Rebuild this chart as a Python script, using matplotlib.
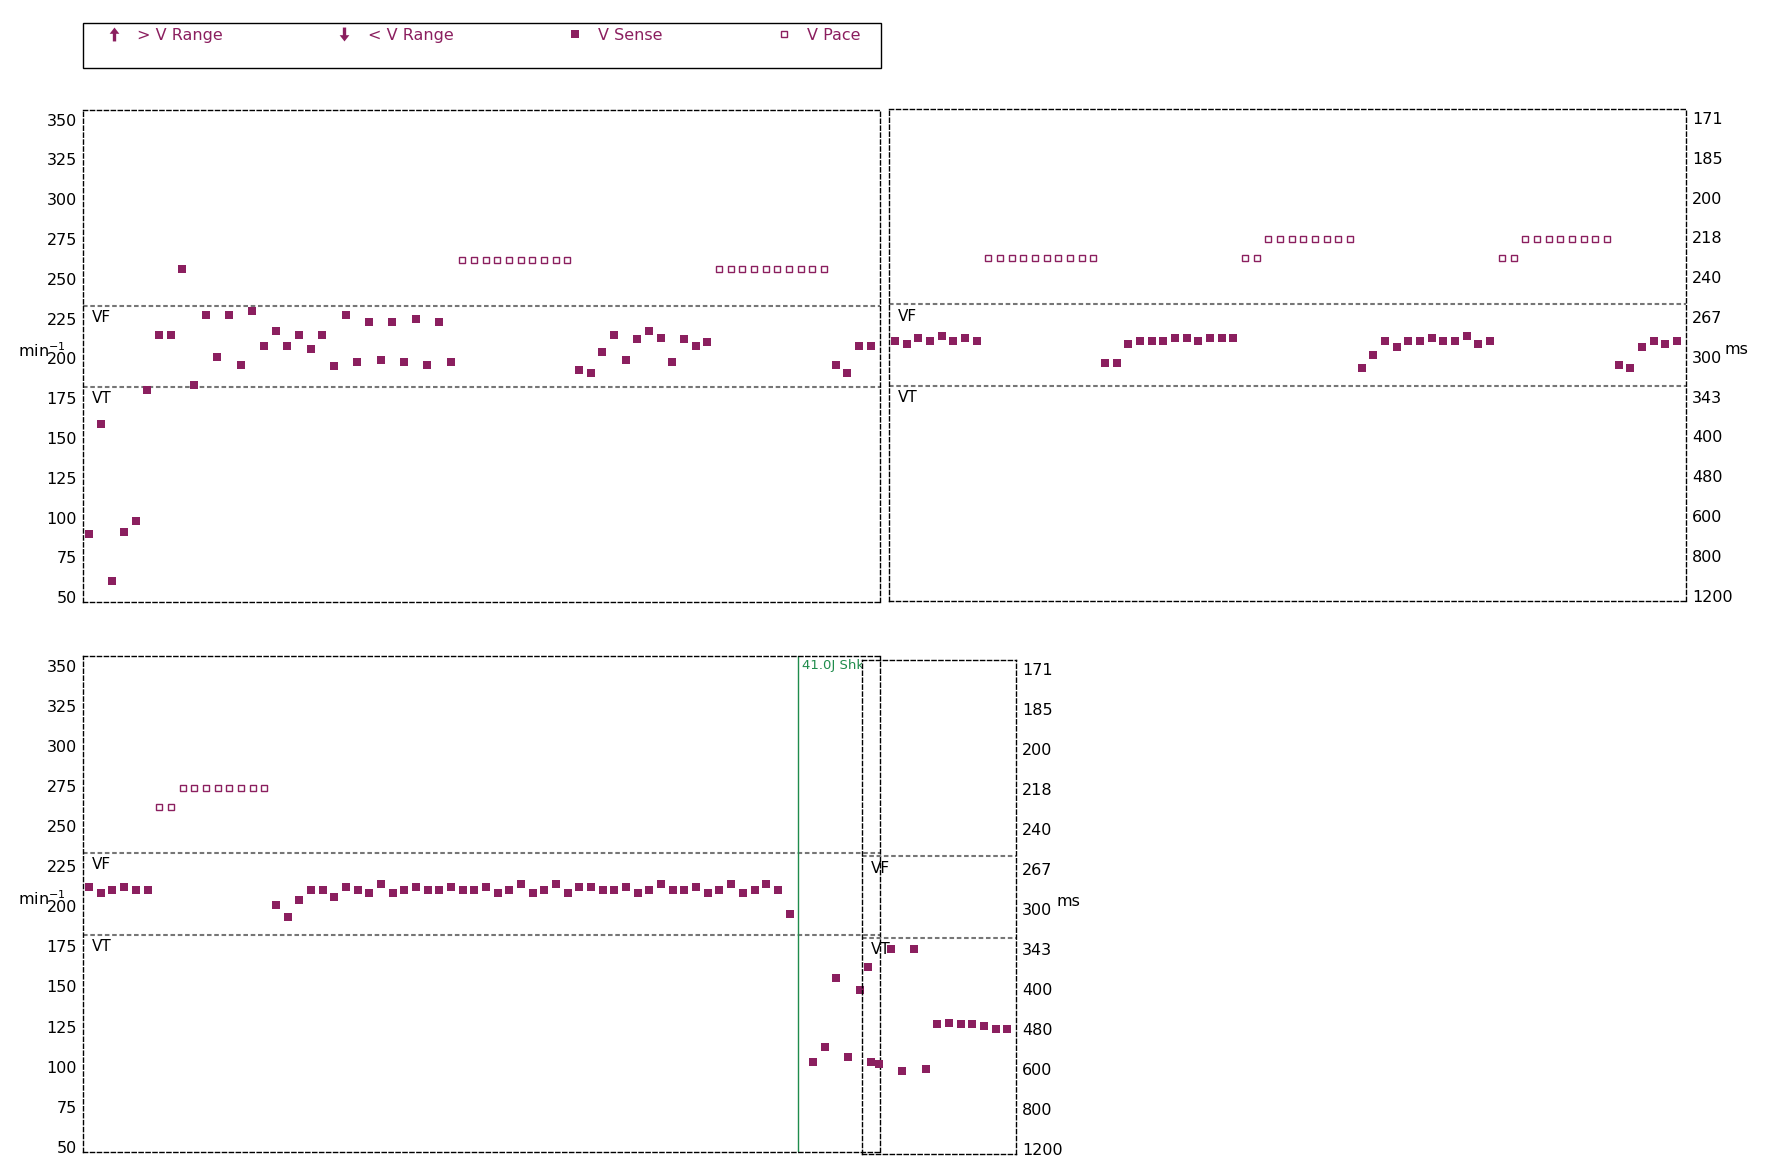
import matplotlib
matplotlib.use('Agg')
import matplotlib.pyplot as plt
from matplotlib.lines import Line2D
from matplotlib.path import Path
from matplotlib.transforms import Bbox, TransformedBbox
import numpy as np

PURPLE = '#8b1f5f'
GREEN = '#1f8c4c'
GREY = '#767676'

# beat-by-beat rate (bpm) of each strip, S = sensed beat, P = paced beat
strip1_bpm = [90, 159, 60, 91, 98, 180, 215, 215, 256, 183, 227, 201, 227, 196, 230, 208,
              217, 208, 215, 206, 215, 195, 227, 198, 223, 199, 223, 198, 225, 196, 223, 198,
              262, 262, 262, 262, 262, 262, 262, 262, 262, 262,
              193, 191, 204, 215, 199, 212, 217, 213, 198, 212, 208, 210,
              256, 256, 256, 256, 256, 256, 256, 256, 256, 256,
              196, 191, 208, 208]
strip1_kind = 'S' * 32 + 'P' * 10 + 'S' * 12 + 'P' * 10 + 'S' * 4

strip2_bpm = [210, 208, 212, 210, 213, 210, 212, 210,
              262, 262, 262, 262, 262, 262, 262, 262, 262, 262,
              196, 196, 208, 210, 210, 210, 212, 212, 210, 212, 212, 212,
              262, 262, 274, 274, 274, 274, 274, 274, 274, 274,
              193, 201, 210, 206, 210, 210, 212, 210, 210, 213, 208, 210,
              262, 262, 274, 274, 274, 274, 274, 274, 274, 274,
              195, 193, 206, 210, 208, 210]
strip2_kind = 'S' * 8 + 'P' * 10 + 'S' * 12 + 'P' * 10 + 'S' * 12 + 'P' * 10 + 'S' * 6

strip3_bpm = [212, 208, 210, 212, 210, 210,
              262, 262, 274, 274, 274, 274, 274, 274, 274, 274,
              201, 193, 204, 210, 210, 206, 212, 210, 208, 214, 208, 210, 212, 210, 210, 212,
              210, 210, 212, 208, 210, 214, 208, 210, 214, 208, 212, 212, 210, 210, 212, 208,
              210, 214, 210, 210, 212, 208, 210, 214, 208, 210, 214, 210, 195,
              np.nan, 103, 112, 155, 106, 148, 103]
strip3_kind = 'S' * 6 + 'P' * 10 + 'S' * 52

strip4_bpm = [164, 103, 175, 99, 175, 100, 128, 129, 128, 128, 127, 125, 125]
strip4_kind = 'S' * 13

zone_names = ['VF', 'VT']
zone_bpm = [233, 182]

shock_beat = [60.75]
shock_text = ['41.0J Shk']

tick_bpm = [50, 75, 100, 125, 150, 175, 200, 225, 250, 275, 300, 325, 350]
tick_ms = ['1200', '800', '600', '480', '400', '343', '300', '267', '240', '218', '200', '185', '171']

legend_labels = ['> V Range', '< V Range', 'V Sense', 'V Pace']

W, H = 1772, 1175
fig = plt.figure(figsize=(W / 100, H / 100), dpi=100)


def box(x0, y0, x1, y1):
    return [x0 / W, 1 - y1 / H, (x1 - x0) / W, (y1 - y0) / H]


def draw_strip(ax, bpm, kind, side):
    bpm = np.array(bpm, dtype=float)
    x = np.arange(len(bpm))
    sense = np.array([k == 'S' for k in kind])
    ax.plot(x[sense], bpm[sense], ls='none', marker='s', color=PURPLE, ms=5.5, mew=0, zorder=3)
    ax.plot(x[~sense], bpm[~sense], ls='none', marker='s', mfc='white', mec=PURPLE,
            ms=4.0, mew=1.0, zorder=3)
    ax.set_xlim(-0.5, len(bpm) - 0.25)
    ax.set_ylim(47, 356)
    for name, v in zip(zone_names, zone_bpm):
        ax.axhline(v, color=GREY, lw=1.5, ls=(0, (2.2, 1.3)), zorder=1)
        ax.annotate(name, (0, v), xycoords=ax.get_yaxis_transform(), xytext=(6.5, -3),
                    textcoords='offset points', va='top', ha='left', fontsize=11)
    for s in ax.spines.values():
        s.set_linestyle((0, (3, 2)))
        s.set_linewidth(1.0)
        s.set_color('black')
    ax.set_xticks([])
    ax.set_yticks(tick_bpm)
    ax.tick_params(axis='y', length=0, pad=4.5, labelsize=11.5)
    if side == 'left':
        ax.set_yticklabels([str(t) for t in tick_bpm])
        ax.set_ylabel('min$^{-1}$', rotation=0, fontsize=11.5, va='center')
        ax.yaxis.set_label_coords(-0.0525, 0.51)
    else:
        ax.yaxis.tick_right()
        ax.set_yticklabels(tick_ms)
        ax.yaxis.set_label_position('right')
        ax.set_ylabel('ms', rotation=0, fontsize=11.5, va='center')


ax1 = fig.add_axes(box(83.3, 110, 879.5, 602))
draw_strip(ax1, strip1_bpm, strip1_kind, 'left')

ax2 = fig.add_axes(box(889, 108.5, 1685.7, 600.5))
draw_strip(ax2, strip2_bpm, strip2_kind, 'right')
ax2.yaxis.set_label_coords(1.064, 0.51)

ax3 = fig.add_axes(box(83.3, 656, 880, 1151.7))
draw_strip(ax3, strip3_bpm, strip3_kind, 'left')

ax4 = fig.add_axes(box(861.7, 659.5, 1016, 1154))
ax4.patch.set_alpha(0)
draw_strip(ax4, strip4_bpm, strip4_kind, 'right')
ax4.yaxis.set_label_coords(1.337, 0.51)

# shock marker, its label is hidden where the last strip starts
p3 = ax3.get_position()
p4 = ax4.get_position()
clip = TransformedBbox(Bbox([[p3.x0, p3.y0], [p4.x0, p3.y1]]), fig.transFigure)
for xb, label in zip(shock_beat, shock_text):
    ax3.axvline(xb, color=GREEN, lw=1.0, zorder=2)
    t = ax3.annotate(label, (xb, 1), xycoords=ax3.get_xaxis_transform(), xytext=(2.5, -2),
                     textcoords='offset points', va='top', ha='left', fontsize=9.5, color=GREEN)
    t.set_clip_on(True)
    t.set_clip_box(clip)

# legend
up = Path([(-0.12, -0.5), (0.12, -0.5), (0.12, 0.05), (0.35, 0.05), (0, 0.5),
           (-0.35, 0.05), (-0.12, 0.05), (-0.12, -0.5)], closed=True)
down = Path([(-0.12, 0.5), (0.12, 0.5), (0.12, -0.05), (0.35, -0.05), (0, -0.5),
             (-0.35, -0.05), (-0.12, -0.05), (-0.12, 0.5)], closed=True)
hs = [
    Line2D([], [], ls='none', marker=up, color=PURPLE, ms=10, mew=0),
    Line2D([], [], ls='none', marker=down, color=PURPLE, ms=10, mew=0),
    Line2D([], [], ls='none', marker='s', color=PURPLE, ms=5.5, mew=0),
    Line2D([], [], ls='none', marker='s', mfc='white', mec=PURPLE, ms=4.0, mew=1.0),
]
blank = Line2D([], [], ls='none', marker='')
handles, labels = [], []
for h, lab in zip(hs, legend_labels):
    handles += [h, blank]
    labels += [lab + '   ', '']
leg = fig.legend(handles, labels, loc='upper left', ncol=4, mode='expand',
                 bbox_to_anchor=(83.3 / W, 1 - 23 / H, (881 - 83.3) / W, 0),
                 borderaxespad=0, frameon=True, fancybox=False, edgecolor='black',
                 framealpha=1, labelcolor=PURPLE, fontsize=11.5, handlelength=3.2,
                 handletextpad=-0.12, borderpad=0.3, labelspacing=0.32)
leg.get_frame().set_linewidth(1.0)

fig.savefig('out.png', dpi=100)
